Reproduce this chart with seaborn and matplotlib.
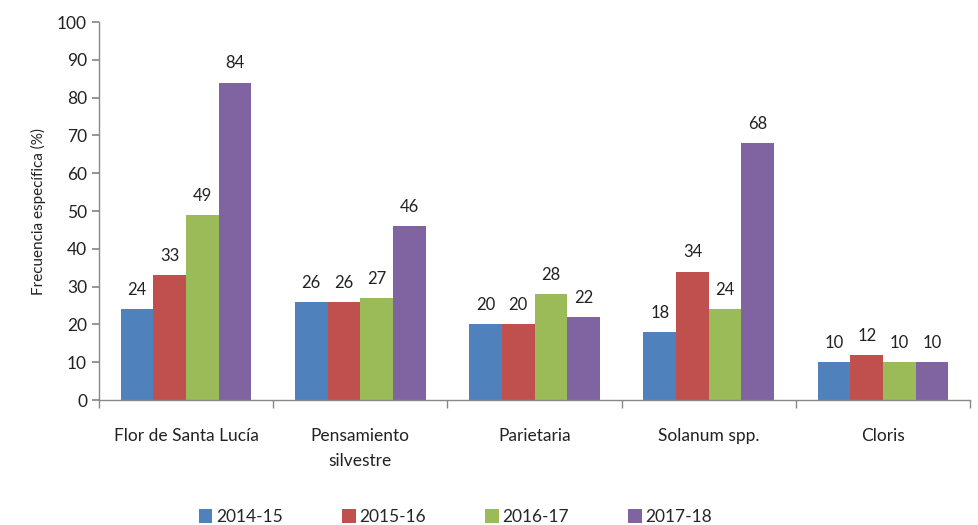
import matplotlib
matplotlib.use("Agg")
import matplotlib.pyplot as plt
import seaborn as sns
import pandas as pd
import numpy as np

categories = ["Flor de Santa Lucía", "Pensamiento\nsilvestre", "Parietaria", "Solanum spp.", "Cloris"]
seasons = ["2014-15", "2015-16", "2016-17", "2017-18"]
v_2014 = [24, 26, 20, 18, 10]
v_2015 = [33, 26, 20, 34, 12]
v_2016 = [49, 27, 28, 24, 10]
v_2017 = [84, 46, 22, 68, 10]
colors = ["#4F81BD", "#C0504D", "#9BBB59", "#8064A2"]

rows = []
for s, vals in zip(seasons, [v_2014, v_2015, v_2016, v_2017]):
    for c, v in zip(categories, vals):
        rows.append({"cat": c, "season": s, "val": v})
df = pd.DataFrame(rows)

sns.set_theme(style="white")
plt.rcParams["font.family"] = ["Lato", "DejaVu Sans"]

fig = plt.figure(figsize=(9.79, 5.25), dpi=100)
ax = fig.add_axes([0.101, 0.238, 0.89, 0.72])
sns.barplot(data=df, x="cat", y="val", hue="season", order=categories, hue_order=seasons,
            palette=colors, width=0.75, saturation=1, ax=ax, legend=True, linewidth=0)

for cont in ax.containers:
    ax.bar_label(cont, fmt="%d", padding=8, fontsize=12, color="#222222")

ax.set_ylim(0, 100)
ax.set_yticks(np.arange(0, 101, 10))
ax.set_xlim(-0.5, 4.5)
ax.set_xlabel("")
ax.set_ylabel("Frecuencia específica (%)", fontsize=11, color="#222222", labelpad=8)
ax.tick_params(axis="y", labelsize=12.5, colors="#222222", length=5, color="#888888", direction="out", left=True)
ax.tick_params(axis="x", which="major", labelsize=12.5, colors="#222222", length=0, pad=20)
for lab in ax.get_xticklabels():
    lab.set_multialignment("center")
    lab.set_linespacing(1.7)
    lab.set_verticalalignment("top")
ax.set_xticks(np.arange(-0.5, 4.6, 1), minor=True)
ax.tick_params(axis="x", which="minor", length=6, color="#888888", direction="out", bottom=True)
for s in ["top", "right"]:
    ax.spines[s].set_visible(False)
for s in ["left", "bottom"]:
    ax.spines[s].set_color("#888888")
    ax.spines[s].set_linewidth(1)

handles, labels = ax.get_legend_handles_labels()
ax.get_legend().remove()
fig.legend(handles, labels, loc="center", bbox_to_anchor=(0.465, 0.015), ncol=4, frameon=False,
           fontsize=12.5, handlelength=0.8, handleheight=0.8, handletextpad=0.2, columnspacing=3.4)

fig.savefig("out.png", dpi=100)
